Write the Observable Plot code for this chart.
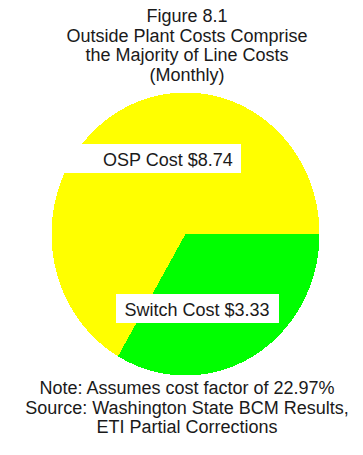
<!DOCTYPE html>
<html><head><meta charset="utf-8">
<script src="https://cdn.jsdelivr.net/npm/d3@7"></script>
<script src="https://cdn.jsdelivr.net/npm/@observablehq/plot@0.6"></script>
<style>
html,body{margin:0;padding:0;background:#fff;}
#wrap{position:relative;width:363px;height:455px;overflow:hidden;font-family:"Liberation Sans",Arial,sans-serif;color:#1a1a1a;}
.txt{position:absolute;left:0;width:374px;text-align:center;font-size:18px;line-height:19.7px;white-space:nowrap;}
#title{top:7px;}
#chart{position:absolute;left:0;top:86px;}
#note{top:379px;}
</style></head>
<body>
<div id="wrap"><div id="title" class="txt"></div><div id="chart"></div><div id="note" class="txt"></div></div>
<script>
// ---- data ----
const titleLines = ["Figure 8.1", "Outside Plant Costs Comprise", "the Majority of Line Costs", "(Monthly)"];
const noteLines = ["Note: Assumes cost factor of 22.97%", "Source: Washington State BCM Results,", "ETI Partial Corrections"];
const categories = ["Switch Cost", "OSP Cost"];
const costs = [3.33, 8.74];
// share of the full circle each slice covers in the picture (percent)
const sliceShares = [33.4, 66.6];
const colors = ["#00ff00", "#ffff00"];

// ---- layout (not data) ----
const labelLayout = {
  "OSP Cost":    {x: -0.131, y: 0.518, padL: 43, padR: 9},
  "Switch Cost": {x: 0.086,  y: -0.542, padL: 8, padR: 10}
};

document.getElementById("title").innerHTML = titleLines.map(s => `<div>${s}</div>`).join("");
document.getElementById("note").innerHTML = noteLines.map(s => `<div>${s}</div>`).join("");

const slices = categories.map((name, i) => ({name, share: sliceShares[i], cost: costs[i]}));
const pie = d3.pie().sort(null).value(d => d.share)
  .startAngle(Math.PI / 2).endAngle(Math.PI / 2 + 2 * Math.PI);
const arcs = pie(slices);
const pts = arcs.flatMap(a => {
  const name = a.data.name;
  const n = Math.max(2, Math.ceil((a.endAngle - a.startAngle) / (Math.PI / 720)));
  const out = [{name, x: 0, y: 0}];
  for (let k = 0; k <= n; k++) {
    const t = a.startAngle + (a.endAngle - a.startAngle) * k / n;
    out.push({name, x: Math.sin(t), y: Math.cos(t)});
  }
  return out;
});

const labels = slices.map(d => ({
  text: `${d.name} $${d.cost.toFixed(2)}`,
  ...labelLayout[d.name]
}));

function boxed(index, scales, values, dims, context, next) {
  const g = next(index, scales, values, dims, context);
  const ns = "http://www.w3.org/2000/svg";
  const wrap = document.createElementNS(ns, "g");
  const ctx = document.createElement("canvas").getContext("2d");
  ctx.font = '18px "Liberation Sans"';
  for (const i of index) {
    const d = labels[i];
    const w = ctx.measureText(d.text).width;
    const r = document.createElementNS(ns, "rect");
    r.setAttribute("x", values.x[i] - w / 2 - d.padL);
    r.setAttribute("y", values.y[i] - 16.24);
    r.setAttribute("width", w + d.padL + d.padR);
    r.setAttribute("height", 29);
    r.setAttribute("fill", "#ffffff");
    r.setAttribute("shape-rendering", "crispEdges");
    wrap.appendChild(r);
  }
  wrap.appendChild(g);
  return wrap;
}

const chart = Plot.plot({
  width: 363, height: 294,
  marginLeft: 51, marginRight: 44, marginTop: 6, marginBottom: 5,
  x: {domain: [-1, 1], axis: null},
  y: {domain: [-1, 1], axis: null},
  color: {domain: categories, range: colors},
  style: {fontFamily: '"Liberation Sans", Arial, sans-serif', fontSize: "18px", background: "transparent", overflow: "visible", color: "#1a1a1a"},
  marks: [
    Plot.line(pts, {x: "x", y: "y", z: "name", fill: "name", stroke: "none", curve: "linear-closed", shapeRendering: "crispEdges"}),
    Plot.text(labels, {x: "x", y: "y", text: "text", fontSize: 18, fill: "#1a1a1a", render: boxed})
  ]
});
document.getElementById("chart").appendChild(chart);
</script>
</body></html>
